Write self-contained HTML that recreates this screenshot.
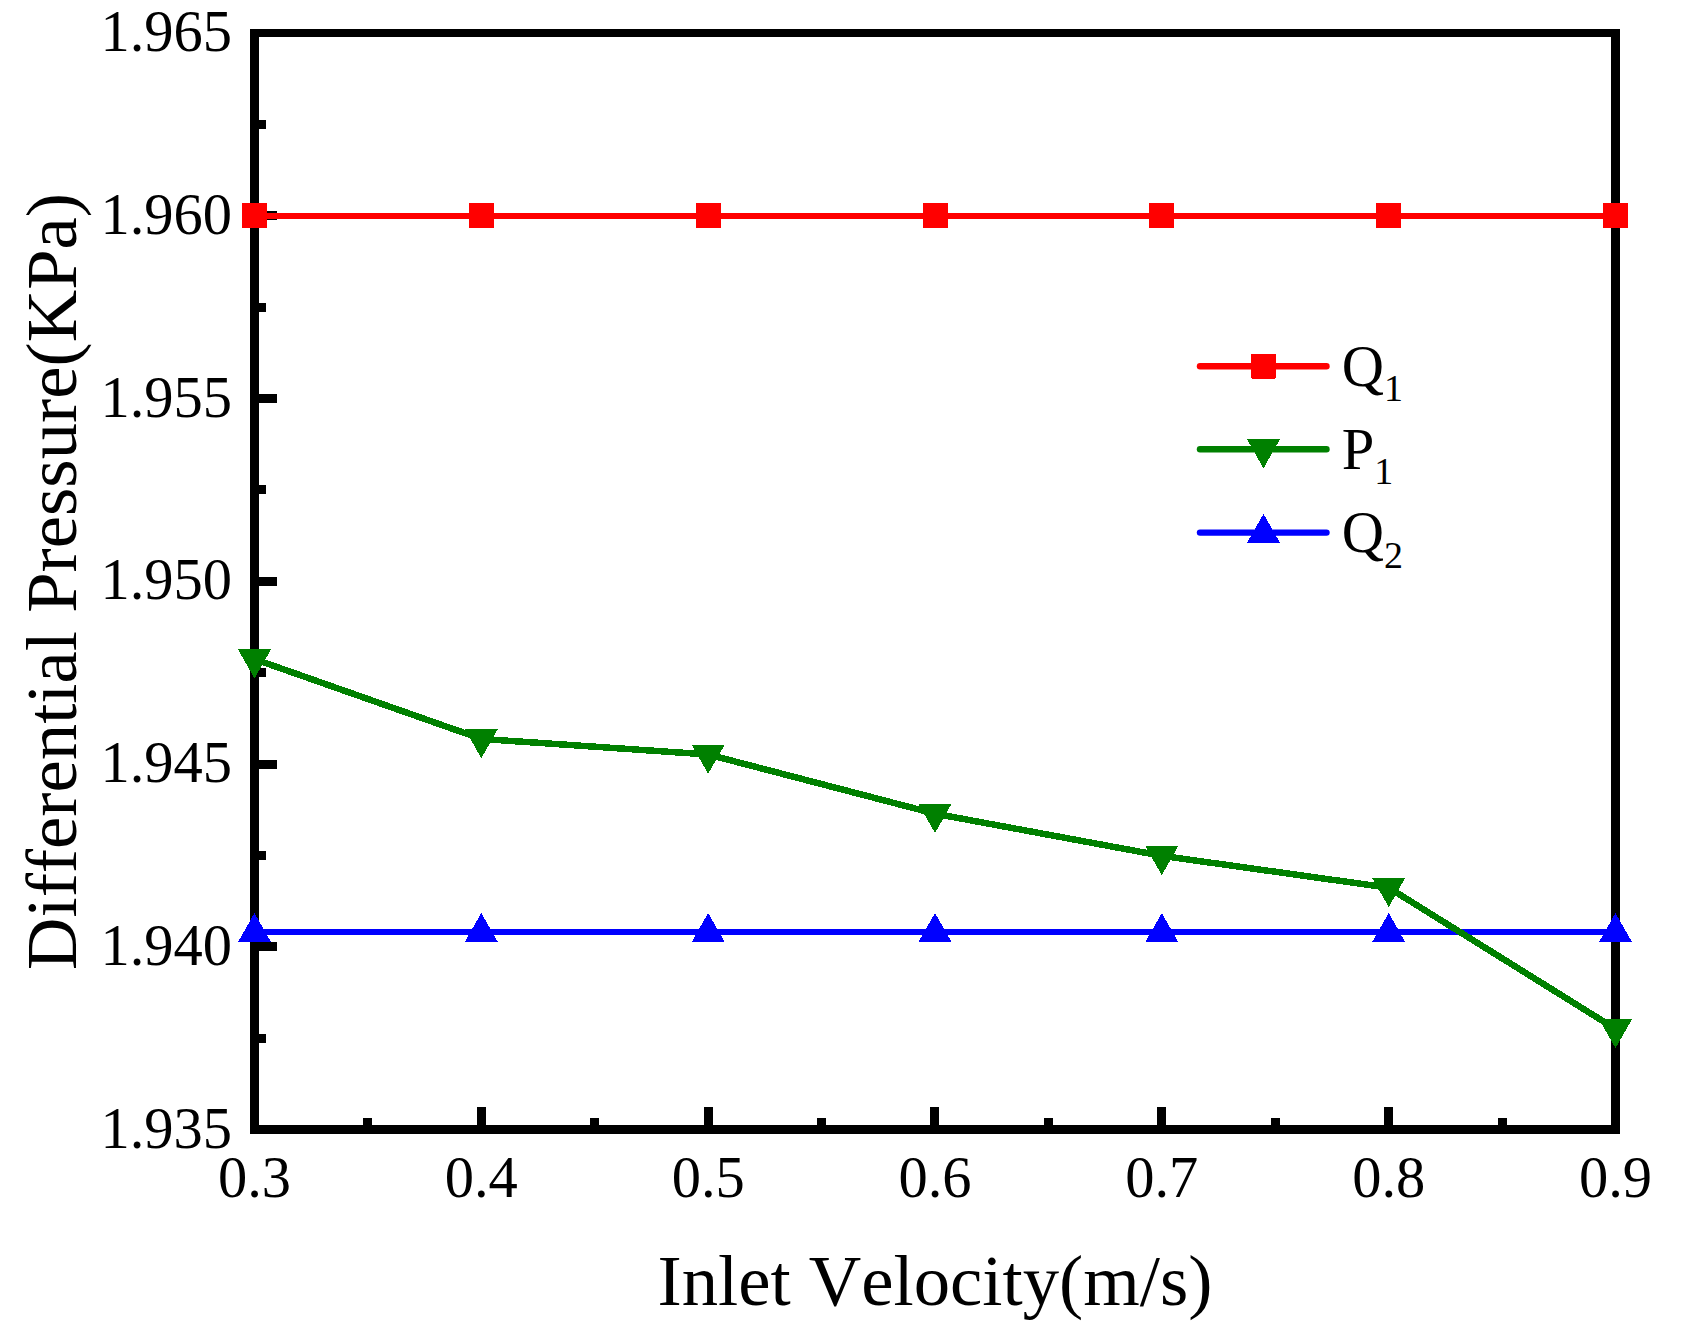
<!DOCTYPE html>
<html lang="en"><head><meta charset="utf-8"><title>Differential Pressure vs Inlet Velocity</title>
<style>html,body{margin:0;padding:0;background:#fff;}body{width:1684px;height:1342px;overflow:hidden;}svg{display:block;}text{font-kerning:none;font-variant-ligatures:none;font-family:"Liberation Serif","Times New Roman",serif;fill:#000;}</style></head><body>
<svg width="1684" height="1342" viewBox="0 0 1684 1342">
<rect x="0" y="0" width="1684" height="1342" fill="#fff"/>
<g fill="#000" shape-rendering="crispEdges">
<rect x="259" y="120" width="7" height="9"/>
<rect x="259" y="211" width="18" height="9"/>
<rect x="259" y="303" width="7" height="9"/>
<rect x="259" y="394" width="18" height="9"/>
<rect x="259" y="485" width="7" height="9"/>
<rect x="259" y="577" width="18" height="9"/>
<rect x="259" y="668" width="7" height="9"/>
<rect x="259" y="760" width="18" height="9"/>
<rect x="259" y="851" width="7" height="9"/>
<rect x="259" y="942" width="18" height="9"/>
<rect x="259" y="1034" width="7" height="9"/>
<rect x="363" y="1118" width="9" height="7"/>
<rect x="477" y="1107" width="9" height="18"/>
<rect x="590" y="1118" width="9" height="7"/>
<rect x="704" y="1107" width="9" height="18"/>
<rect x="817" y="1118" width="9" height="7"/>
<rect x="930" y="1107" width="9" height="18"/>
<rect x="1044" y="1118" width="9" height="7"/>
<rect x="1157" y="1107" width="9" height="18"/>
<rect x="1271" y="1118" width="9" height="7"/>
<rect x="1384" y="1107" width="9" height="18"/>
<rect x="1498" y="1118" width="9" height="7"/>
<rect x="250" y="29" width="9" height="1105"/>
<rect x="1611" y="29" width="9" height="1105"/>
<rect x="250" y="29" width="1370" height="8"/>
<rect x="250" y="1125" width="1370" height="9"/>
</g>
<g font-size="58.5">
<text x="232" y="51.0" text-anchor="end">1.965</text>
<text x="232" y="233.8" text-anchor="end">1.960</text>
<text x="232" y="416.5" text-anchor="end">1.955</text>
<text x="232" y="599.2" text-anchor="end">1.950</text>
<text x="232" y="782.0" text-anchor="end">1.945</text>
<text x="232" y="964.8" text-anchor="end">1.940</text>
<text x="232" y="1147.5" text-anchor="end">1.935</text>
<text x="254.5" y="1196.5" text-anchor="middle">0.3</text>
<text x="481.3" y="1196.5" text-anchor="middle">0.4</text>
<text x="708.2" y="1196.5" text-anchor="middle">0.5</text>
<text x="935.0" y="1196.5" text-anchor="middle">0.6</text>
<text x="1161.8" y="1196.5" text-anchor="middle">0.7</text>
<text x="1388.7" y="1196.5" text-anchor="middle">0.8</text>
<text x="1615.5" y="1196.5" text-anchor="middle">0.9</text>
</g>
<text x="935" y="1305" font-size="72.7" text-anchor="middle">Inlet Velocity(m/s)</text>
<text transform="translate(76,581.5) rotate(-90)" font-size="72.7" text-anchor="middle">Differential Pressure(KPa)</text>
<g shape-rendering="crispEdges">
<polyline fill="none" stroke="#f00" stroke-width="6" points="254.5,216.00 481.3,216.00 708.2,216.00 935.0,216.00 1161.8,216.00 1388.7,216.00 1615.5,216.00"/>
<rect x="242.0" y="203" width="25" height="25" fill="#f00"/>
<rect x="468.8" y="203" width="25" height="25" fill="#f00"/>
<rect x="695.7" y="203" width="25" height="25" fill="#f00"/>
<rect x="922.5" y="203" width="25" height="25" fill="#f00"/>
<rect x="1149.3" y="203" width="25" height="25" fill="#f00"/>
<rect x="1376.2" y="203" width="25" height="25" fill="#f00"/>
<rect x="1603.0" y="203" width="25" height="25" fill="#f00"/>
<polyline fill="none" stroke="#00f" stroke-width="6" points="254.5,932.00 481.3,932.00 708.2,932.00 935.0,932.00 1161.8,932.00 1388.7,932.00 1615.5,932.00"/>
<polygon fill="#00f" points="238.0,942.0 271.0,942.0 254.5,913.0"/>
<polygon fill="#00f" points="464.8,942.0 497.8,942.0 481.3,913.0"/>
<polygon fill="#00f" points="691.7,942.0 724.7,942.0 708.2,913.0"/>
<polygon fill="#00f" points="918.5,942.0 951.5,942.0 935.0,913.0"/>
<polygon fill="#00f" points="1145.3,942.0 1178.3,942.0 1161.8,913.0"/>
<polygon fill="#00f" points="1372.2,942.0 1405.2,942.0 1388.7,913.0"/>
<polygon fill="#00f" points="1599.0,942.0 1632.0,942.0 1615.5,913.0"/>
<polyline fill="none" stroke="#008000" stroke-width="6.5" stroke-linejoin="round" points="254.5,659.1 481.3,738.9 708.2,754.5 935.0,813.7 1161.8,855.8 1388.7,887.7 1615.5,1028.9"/>
<polygon fill="#008000" points="238.0,649.4 271.0,649.4 254.5,678.4"/>
<polygon fill="#008000" points="464.8,729.2 497.8,729.2 481.3,758.2"/>
<polygon fill="#008000" points="691.7,744.8 724.7,744.8 708.2,773.8"/>
<polygon fill="#008000" points="918.5,804.0 951.5,804.0 935.0,833.0"/>
<polygon fill="#008000" points="1145.3,846.1 1178.3,846.1 1161.8,875.1"/>
<polygon fill="#008000" points="1372.2,878.0 1405.2,878.0 1388.7,907.0"/>
<polygon fill="#008000" points="1599.0,1019.2 1632.0,1019.2 1615.5,1048.2"/>
<line x1="1200" y1="366.2" x2="1326.5" y2="366.2" stroke="#f00" stroke-width="6.4" stroke-linecap="round" shape-rendering="geometricPrecision"/>
<rect x="1251.0" y="353.7" width="25" height="25" rx="1.5" fill="#f00"/>
<line x1="1200" y1="449.3" x2="1326.5" y2="449.3" stroke="#008000" stroke-width="6.4" stroke-linecap="round" shape-rendering="geometricPrecision"/>
<polygon fill="#008000" points="1247.0,439.3 1280.0,439.3 1263.5,468.3"/>
<line x1="1200" y1="532.6" x2="1326.5" y2="532.6" stroke="#00f" stroke-width="6.4" stroke-linecap="round" shape-rendering="geometricPrecision"/>
<polygon fill="#00f" points="1247.0,542.8 1280.0,542.8 1263.5,513.8"/>
</g>
<text x="1341.8" y="385.6" font-size="58.5">Q<tspan font-size="38" dy="15.5">1</tspan></text>
<text x="1341.8" y="468.7" font-size="58.5">P<tspan font-size="38" dy="15.5">1</tspan></text>
<text x="1341.8" y="552.0" font-size="58.5">Q<tspan font-size="38" dy="15.5">2</tspan></text>
</svg></body></html>
